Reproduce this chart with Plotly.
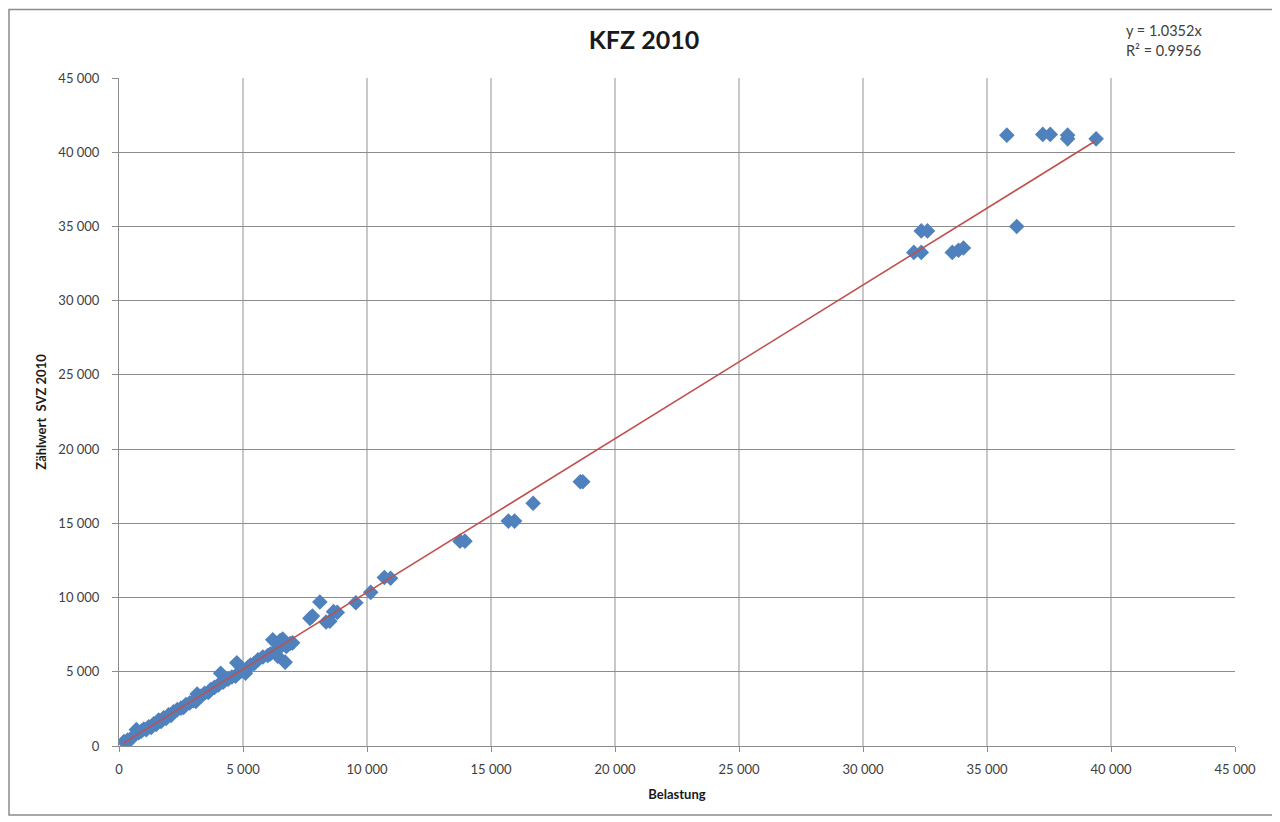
import plotly.graph_objects as go

# Data (Belastung vs. Zählwert SVZ 2010)
belastung = [
    200, 300, 350, 450, 550, 700, 800, 900, 1000, 1100, 1200, 1300, 1400, 1500,
    1600, 1700, 1800, 1900, 2000, 2100, 2200, 2350, 2500, 2600, 2700, 2850, 3000,
    3100, 3150, 3200, 3300, 3450, 3600, 3700, 3850, 4000, 4100, 4200, 4400, 4550,
    4700, 4750, 4800, 4900, 5000, 5100, 5200, 5300, 5450, 5600, 5800, 6000, 6100,
    6200, 6300, 6400, 6400, 6500, 6550, 6600, 6700, 6750, 6900, 7000,
    7800, 7700, 8100, 8350, 8500, 8650, 8800, 9550, 10150, 10700, 10950,
    13750, 13950, 15700, 15950, 16700, 18600, 18700,
    32050, 32350, 32350, 32600, 33600, 33850, 34050, 36200,
    35800, 37250, 37550, 38250, 38250, 39400,
]
zaehlwert = [
    300, 250, 400, 420, 600, 1100, 900, 1000, 1150, 1100, 1300, 1250, 1500, 1450,
    1750, 1650, 1900, 1850, 2100, 2050, 2300, 2450, 2550, 2600, 2800, 2900, 3050,
    3000, 3500, 3300, 3350, 3550, 3600, 3800, 3950, 4100, 4900, 4300, 4500, 4650,
    4700, 5600, 4900, 5000, 5100, 4900, 5300, 5450, 5550, 5800, 6000, 6100, 6200,
    7150, 6400, 6500, 6050, 7100, 6750, 7200, 5650, 6700, 6900, 6950,
    8750, 8600, 9700, 8350, 8400, 9050, 9000, 9650, 10350, 11350, 11300,
    13800, 13800, 15150, 15150, 16350, 17800, 17800,
    33250, 34700, 33250, 34700, 33250, 33400, 33550, 35000,
    41150, 41200, 41200, 41150, 40900, 40900,
]
slope = 1.0352
r2 = 0.9956

tick_vals = [0, 5000, 10000, 15000, 20000, 25000, 30000, 35000, 40000, 45000]
tick_text = ["0", "5 000", "10 000", "15 000", "20 000", "25 000", "30 000",
             "35 000", "40 000", "45 000"]

title_text = "KFZ 2010"
x_title = "Belastung"
y_title = "Zählwert  SVZ 2010"

FONT = "Lato, 'Open Sans', 'DejaVu Sans', sans-serif"

fig = go.Figure()
fig.add_trace(go.Scatter(
    x=belastung, y=zaehlwert, mode="markers",
    marker=dict(symbol="diamond", size=12, color="#4F81BD",
                line=dict(width=0)),
    showlegend=False,
))
xmin, xmax = min(belastung), max(belastung)
fig.add_trace(go.Scatter(
    x=[xmin, xmax], y=[slope * xmin, slope * xmax], mode="lines",
    line=dict(color="#C0504D", width=1.6),
    showlegend=False,
))

OFF = 8  # page offset of the figure in the browser
L, R, T, B = 119, 1235, 78, 746   # target plot area in screen pixels
W, H = 1280, 822
pw, ph = R - L, B - T

def px(xp):
    return (xp - L) / pw

def py(yp):
    return (B - yp) / ph

fig.update_layout(
    width=W, height=H,
    margin=dict(l=L - OFF, r=W + OFF - R, t=T - OFF, b=H + OFF - B, pad=0),
    paper_bgcolor="white", plot_bgcolor="white",
    font=dict(family=FONT, color="#404040"),
    title=dict(text="<b>%s</b>" % title_text, x=(644 - OFF) / W, xanchor="center",
               y=1 - (40 - OFF) / H, yanchor="middle",
               font=dict(size=25, color="#1a1a1a", family=FONT)),
    xaxis=dict(
        range=[0, 45000], tickvals=tick_vals, ticktext=tick_text,
        showgrid=True, gridcolor="#C8C8C8", gridwidth=1.5,
        showline=True, linecolor="#8C8C8C", linewidth=1,
        ticks="outside", ticklen=5, tickcolor="#8C8C8C",
        ticklabelstandoff=6,
        tickfont=dict(size=13, color="#404040"),
        zeroline=False,
        title=dict(text="<b>%s</b>" % x_title, font=dict(size=13, color="#1a1a1a"),
                   standoff=14),
    ),
    yaxis=dict(
        range=[0, 45000], tickvals=tick_vals, ticktext=tick_text,
        showgrid=True, gridcolor="#8C8C8C", gridwidth=1,
        showline=True, linecolor="#8C8C8C", linewidth=1,
        ticks="outside", ticklen=6, tickcolor="#8C8C8C",
        ticklabelstandoff=10,
        tickfont=dict(size=13, color="#404040"),
        zeroline=False,
        title=dict(text="<b>%s</b>" % y_title, font=dict(size=13, color="#1a1a1a"),
                   standoff=8),
    ),
    annotations=[
        dict(text="y = %.4fx" % slope, xref="paper", yref="paper",
             x=px(1124), y=py(30), xanchor="left", yanchor="middle",
             showarrow=False, font=dict(size=14.5, color="#404040")),
        dict(text="R² = %.4f" % r2, xref="paper", yref="paper",
             x=px(1124), y=py(50), xanchor="left", yanchor="middle",
             showarrow=False, font=dict(size=14.5, color="#404040")),
    ],
    shapes=[
        dict(type="rect", xref="paper", yref="paper",
             x0=px(9), x1=px(1277), y0=py(815), y1=py(9.5),
             line=dict(color="#8C8C8C", width=1.5), fillcolor="rgba(0,0,0,0)",
             layer="below"),
    ],
)
fig.write_html("out.html")
